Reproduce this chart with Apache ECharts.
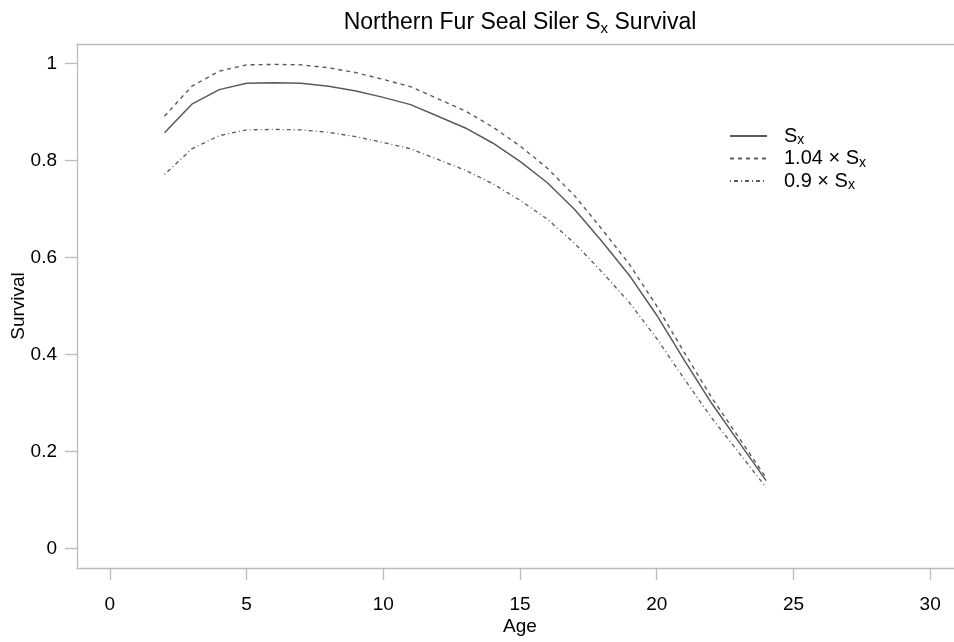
<!DOCTYPE html>
<html>
<head>
<meta charset="utf-8">
<script src="https://cdn.jsdelivr.net/npm/echarts@6/dist/echarts.min.js"></script>
<style>
html,body{margin:0;padding:0;background:#fff;}
#chart{width:954px;height:642px;}
</style>
</head>
<body>
<div id="chart"></div>
<script>
// Data
const ages = [2,3,4,5,6,7,8,9,10,11,12,13,14,15,16,17,18,19,20,21,22,23,24];
const sx = [0.857,0.916,0.946,0.959,0.960,0.959,0.953,0.943,0.930,0.915,0.891,0.867,0.836,0.798,0.754,0.699,0.633,0.563,0.481,0.389,0.300,0.220,0.140];
const sxHigh = [0.891,0.953,0.984,0.997,0.998,0.997,0.991,0.981,0.967,0.952,0.927,0.902,0.869,0.830,0.784,0.727,0.658,0.586,0.500,0.405,0.312,0.229,0.146];
const sxLow = [0.771,0.824,0.851,0.863,0.864,0.863,0.858,0.849,0.837,0.824,0.802,0.780,0.752,0.718,0.679,0.629,0.570,0.507,0.433,0.350,0.270,0.198,0.126];
const xTicks = [0,5,10,15,20,25,30];
const yTicks = [0,0.2,0.4,0.6,0.8,1];
const seriesNames = ['Sx','1.04 × Sx','0.9 × Sx'];

const FONT = 'Liberation Sans, Arial, sans-serif';
const chart = echarts.init(document.getElementById('chart'), null, {renderer:'canvas'});
const pair = (arr) => ages.map((a,i)=>[a, arr[i]]);
const lineColor = '#5a5a5a';
const axisColor = '#bbb';

const legendRich = {
  n: {fontSize:20, fontFamily:FONT, color:'#000'},
  s: {fontSize:14, fontFamily:FONT, color:'#000', verticalAlign:'bottom', padding:[9,0,0,0]}
};

chart.setOption({
  backgroundColor:'#fff',
  animation:false,
  title:{
    text:'{a|Northern Fur Seal Siler S}{b|x}{a| Survival}',
    left:515, textAlign:'center', top:5,
    textStyle:{
      fontWeight:'normal',
      rich:{
        a:{fontSize:23, fontFamily:FONT, color:'#000', fontWeight:'normal'},
        b:{fontSize:15, fontFamily:FONT, color:'#000', fontWeight:'normal', verticalAlign:'bottom', padding:[11,0,0,0]}
      }
    }
  },
  legend:{
    show:true,
    orient:'vertical',
    left:724, top:121,
    itemWidth:37, itemHeight:14, itemGap:1,
    itemStyle:{opacity:0},
    data:seriesNames,
    textStyle:{padding:[0,0,0,12], rich:legendRich},
    formatter:function(name){
      if(name==='Sx') return '{n|S}{s|x}';
      if(name==='1.04 × Sx') return '{n|1.04 × S}{s|x}';
      return '{n|0.9 × S}{s|x}';
    }
  },
  grid:{left:77, right:-9, top:44, bottom:74, show:false, containLabel:false, outerBoundsMode:'none'},
  xAxis:[{
    type:'value', min:-1.2, max:31.2, position:'bottom',
    name:'Age', nameLocation:'middle', nameGap:49, nameMoveOverlap:false,
    nameTextStyle:{fontSize:19, fontFamily:FONT, color:'#000'},
    axisLine:{show:true, onZero:false, lineStyle:{color:axisColor, width:1.3}},
    axisTick:{show:true, length:12, customValues:xTicks, lineStyle:{color:axisColor, width:1.3}},
    axisLabel:{customValues:xTicks, margin:27, fontSize:19, fontFamily:FONT, color:'#000'},
    splitLine:{show:false}
  },{
    type:'value', min:-1.2, max:31.2, position:'top',
    axisLine:{show:true, onZero:false, lineStyle:{color:axisColor, width:1.3}},
    axisTick:{show:false}, axisLabel:{show:false}, splitLine:{show:false}
  }],
  yAxis:{
    type:'value', min:-0.04, max:1.04,
    name:'Survival', nameLocation:'middle', nameGap:49, nameRotate:90, nameMoveOverlap:false,
    nameTextStyle:{fontSize:19, fontFamily:FONT, color:'#000'},
    axisLine:{show:true, onZero:false, lineStyle:{color:axisColor, width:1.3}},
    axisTick:{show:true, length:12, customValues:yTicks, lineStyle:{color:axisColor, width:1.3}},
    axisLabel:{customValues:yTicks, margin:20, fontSize:19, fontFamily:FONT, color:'#000'},
    splitLine:{show:false}
  },
  series:[
    {name:seriesNames[0], type:'line', data:pair(sx), symbol:'none', lineStyle:{color:lineColor, width:1.5, type:'solid'}, itemStyle:{color:lineColor}},
    {name:seriesNames[1], type:'line', data:pair(sxHigh), symbol:'none', lineStyle:{color:lineColor, width:1.4, type:[4,4]}, itemStyle:{color:lineColor}},
    {name:seriesNames[2], type:'line', data:pair(sxLow), symbol:'none', lineStyle:{color:lineColor, width:1.3, type:[1,3,4,3]}, itemStyle:{color:lineColor}}
  ]
});
</script>
</body>
</html>
